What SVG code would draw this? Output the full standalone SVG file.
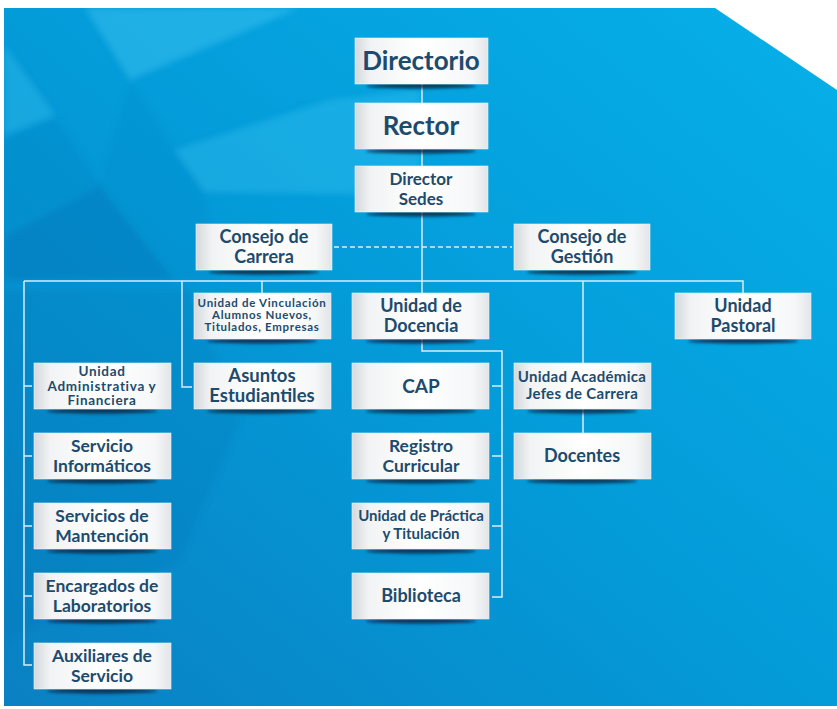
<svg xmlns="http://www.w3.org/2000/svg" width="837" height="709" viewBox="0 0 837 709">
<defs>
<linearGradient id="bg" x1="1" y1="0" x2="0" y2="1">
<stop offset="0" stop-color="#06b0e9"/>
<stop offset="0.5" stop-color="#049bd9"/>
<stop offset="1" stop-color="#0a80c2"/>
</linearGradient>
<linearGradient id="boxg" x1="0" y1="0" x2="1" y2="0">
<stop offset="0" stop-color="#d4d9dd"/>
<stop offset="0.12" stop-color="#f2f3f4"/>
<stop offset="0.5" stop-color="#ffffff"/>
<stop offset="0.88" stop-color="#f6f7f8"/>
<stop offset="1" stop-color="#e2e5e8"/>
</linearGradient>
<filter id="blur" x="-20%" y="-200%" width="140%" height="500%">
<feGaussianBlur stdDeviation="1.6"/>
</filter>
<filter id="soft" x="-10%" y="-10%" width="120%" height="120%">
<feGaussianBlur stdDeviation="3"/>
</filter>
<clipPath id="bgclip"><path d="M4,8 H715 L837,90 V706 H4 Z"/></clipPath>
</defs>
<style>
.box{fill:url(#boxg);stroke:#eef3f6;stroke-width:0.6}
.sh{fill:#0b2540;filter:url(#blur);opacity:0.85}
.t{font-family:Lato,"Liberation Sans",Arial,sans-serif;font-weight:bold;fill:#1d4b6d;text-anchor:middle}
.ln{fill:none;stroke:#d6eef9;stroke-width:1.5}
.dash{fill:none;stroke:#d6eef9;stroke-width:1.5;stroke-dasharray:5 3}
</style>
<rect width="837" height="709" fill="#ffffff"/>
<g clip-path="url(#bgclip)">
<rect x="0" y="0" width="837" height="709" fill="url(#bg)"/>
<g filter="url(#soft)">
<polygon points="85,8 300,8 130,80" fill="#40c6f2" opacity="0.45"/>
<polygon points="175,150 330,100 420,90 420,195 205,192" fill="#40c6f2" opacity="0.35"/>
<polygon points="4,45 55,115 4,135" fill="#40c6f2" opacity="0.35"/>
<polygon points="4,140 55,118 100,185 4,230" fill="#0a86c6" opacity="0.35"/>
<polygon points="4,235 100,185 175,280 4,280" fill="#0066a8" opacity="0.3"/>
<polygon points="130,80 175,150 205,192 215,280 175,280 100,185" fill="#0a8ccb" opacity="0.3"/>
<polygon points="4,290 190,290 240,420 180,560 4,640" fill="#0068ac" opacity="0.18"/>
</g>
</g>
<g id="connectors">
<path class="ln" d="M422,84 V293"/>
<path class="ln" d="M24,281 H743 V293"/>
<path class="ln" d="M262,281 V293"/>
<path class="ln" d="M182,281 V387 H192"/>
<path class="ln" d="M24,281 V665 H32 M24,386 H32 M24,456 H32 M24,526 H32 M24,596 H32"/>
<path class="ln" d="M583,281 V363 M583,409 V433"/>
<path class="ln" d="M422,339 V351 H502 V597 H492 M502,386 H492 M502,456 H492 M502,526 H492"/>
<path class="dash" d="M334,247 H512"/>
</g>
<g id="directorio"><ellipse class="sh" cx="421" cy="86" rx="55" ry="2.5"/><rect class="box" x="355" y="38" width="133" height="46"/><text class="t" x="421" y="70" font-size="26">Directorio</text></g>
<g id="rector"><ellipse class="sh" cx="421" cy="151" rx="55" ry="2.5"/><rect class="box" x="355" y="103" width="133" height="46"/><text class="t" x="421" y="135" font-size="26">Rector</text></g>
<g id="director-sedes"><ellipse class="sh" cx="421" cy="214" rx="55" ry="2.5"/><rect class="box" x="355" y="166" width="133" height="46"/><text class="t" x="421" y="185" font-size="17">Director</text><text class="t" x="421" y="205" font-size="17">Sedes</text></g>
<g id="consejo-carrera"><ellipse class="sh" cx="264" cy="272" rx="55" ry="2.5"/><rect class="box" x="196" y="224" width="136" height="46"/><text class="t" x="264" y="243" font-size="18">Consejo de</text><text class="t" x="264" y="263" font-size="18">Carrera</text></g>
<g id="consejo-gestion"><ellipse class="sh" cx="582" cy="272" rx="55" ry="2.5"/><rect class="box" x="514" y="224" width="136" height="46"/><text class="t" x="582" y="243" font-size="18">Consejo de</text><text class="t" x="582" y="263" font-size="18">Gestión</text></g>
<g id="vinculacion"><ellipse class="sh" cx="262" cy="341" rx="55" ry="2.5"/><rect class="box" x="194" y="293" width="137" height="46"/><text class="t" x="262" y="307" font-size="11.5" letter-spacing="0.7">Unidad de Vinculación</text><text class="t" x="262" y="319" font-size="11.5" letter-spacing="0.7">Alumnos Nuevos,</text><text class="t" x="262" y="331" font-size="11.5" letter-spacing="0.7">Titulados, Empresas</text></g>
<g id="docencia"><ellipse class="sh" cx="421" cy="341" rx="55" ry="2.5"/><rect class="box" x="352" y="293" width="137" height="46"/><text class="t" x="421" y="312" font-size="18">Unidad de</text><text class="t" x="421" y="332" font-size="18">Docencia</text></g>
<g id="pastoral"><ellipse class="sh" cx="743" cy="341" rx="55" ry="2.5"/><rect class="box" x="675" y="293" width="136" height="46"/><text class="t" x="743" y="312" font-size="18">Unidad</text><text class="t" x="743" y="332" font-size="18">Pastoral</text></g>
<g id="administrativa"><ellipse class="sh" cx="102" cy="411" rx="55" ry="2.5"/><rect class="box" x="34" y="363" width="137" height="46"/><text class="t" x="102" y="376" font-size="13.5" letter-spacing="0.7">Unidad</text><text class="t" x="102" y="390.5" font-size="13.5" letter-spacing="0.7">Administrativa y</text><text class="t" x="102" y="405" font-size="13.5" letter-spacing="0.7">Financiera</text></g>
<g id="informaticos"><ellipse class="sh" cx="102" cy="481" rx="55" ry="2.5"/><rect class="box" x="34" y="433" width="137" height="46"/><text class="t" x="102" y="452" font-size="17.5">Servicio</text><text class="t" x="102" y="472" font-size="17.5">Informáticos</text></g>
<g id="mantencion"><ellipse class="sh" cx="102" cy="551" rx="55" ry="2.5"/><rect class="box" x="34" y="503" width="137" height="46"/><text class="t" x="102" y="522" font-size="17.5">Servicios de</text><text class="t" x="102" y="542" font-size="17.5">Mantención</text></g>
<g id="laboratorios"><ellipse class="sh" cx="102" cy="621" rx="55" ry="2.5"/><rect class="box" x="34" y="573" width="137" height="46"/><text class="t" x="102" y="592" font-size="17.5">Encargados de</text><text class="t" x="102" y="612" font-size="17.5">Laboratorios</text></g>
<g id="auxiliares"><ellipse class="sh" cx="102" cy="691" rx="55" ry="2.5"/><rect class="box" x="34" y="643" width="137" height="46"/><text class="t" x="102" y="662" font-size="17.5">Auxiliares de</text><text class="t" x="102" y="682" font-size="17.5">Servicio</text></g>
<g id="asuntos"><ellipse class="sh" cx="262" cy="411" rx="55" ry="2.5"/><rect class="box" x="194" y="363" width="137" height="46"/><text class="t" x="262" y="382" font-size="18.5">Asuntos</text><text class="t" x="262" y="402" font-size="18.5">Estudiantiles</text></g>
<g id="cap"><ellipse class="sh" cx="421" cy="411" rx="55" ry="2.5"/><rect class="box" x="352" y="363" width="137" height="46"/><text class="t" x="421" y="393" font-size="19">CAP</text></g>
<g id="registro"><ellipse class="sh" cx="421" cy="481" rx="55" ry="2.5"/><rect class="box" x="352" y="433" width="137" height="46"/><text class="t" x="421" y="452" font-size="17.5">Registro</text><text class="t" x="421" y="472" font-size="17.5">Curricular</text></g>
<g id="practica"><ellipse class="sh" cx="421" cy="551" rx="55" ry="2.5"/><rect class="box" x="352" y="503" width="137" height="46"/><text class="t" x="421" y="521" font-size="15">Unidad de Práctica</text><text class="t" x="421" y="539" font-size="15">y Titulación</text></g>
<g id="biblioteca"><ellipse class="sh" cx="421" cy="621" rx="55" ry="2.5"/><rect class="box" x="352" y="573" width="137" height="46"/><text class="t" x="421" y="602" font-size="18">Biblioteca</text></g>
<g id="academica"><ellipse class="sh" cx="582" cy="411" rx="55" ry="2.5"/><rect class="box" x="514" y="363" width="137" height="46"/><text class="t" x="582" y="382" font-size="15" letter-spacing="0.3">Unidad Académica</text><text class="t" x="582" y="399" font-size="15" letter-spacing="0.3">Jefes de Carrera</text></g>
<g id="docentes"><ellipse class="sh" cx="582" cy="481" rx="55" ry="2.5"/><rect class="box" x="514" y="433" width="137" height="46"/><text class="t" x="582" y="462" font-size="18">Docentes</text></g>
</svg>
